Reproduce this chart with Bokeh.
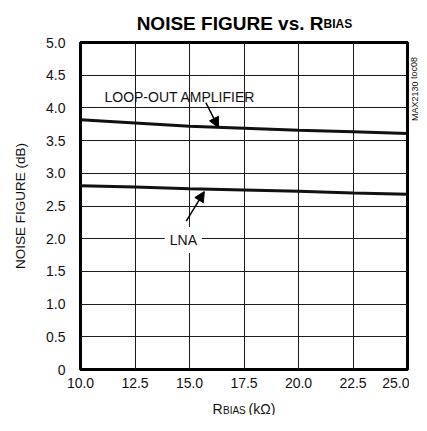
from bokeh.plotting import figure
from bokeh.models import Range1d, FixedTicker, Label, Arrow, NormalHead
from bokeh.layouts import column, row
from bokeh.embed import file_html
from bokeh.resources import INLINE

# ---- data ----
rbias = [10.0, 12.5, 15.0, 17.5, 20.0, 22.5, 25.0]
nf_loopout = [3.82, 3.77, 3.72, 3.69, 3.66, 3.635, 3.61]
nf_lna = [2.81, 2.79, 2.765, 2.745, 2.725, 2.70, 2.68]
x_ticks = [10.0, 12.5, 15.0, 17.5, 20.0, 22.5, 25.0]
x_tick_labels = ["10.0", "12.5", "15.0", "17.5", "20.0", "22.5", "25.0"]
y_ticks = [0, 0.5, 1.0, 1.5, 2.0, 2.5, 3.0, 3.5, 4.0, 4.5, 5.0]
y_tick_labels = ["0", "0.5", "1.0", "1.5", "2.0", "2.5", "3.0", "3.5", "4.0", "4.5", "5.0"]

FONT = "Liberation Sans"
TOTAL_W, TOTAL_H = 419, 415
TITLE_H = 34
MAIN_W, MAIN_H = 409, 359
NOTE_W = TOTAL_W - MAIN_W
XLAB_H = TOTAL_H - TITLE_H - MAIN_H


def text_panel(w, h):
    """blank figure whose frame is the whole canvas, coordinates in px from top-left"""
    f = figure(width=w, height=h, output_backend="svg", toolbar_location=None,
               x_range=Range1d(0, w), y_range=Range1d(h, 0),
               x_axis_type=None, y_axis_type=None,
               min_border_left=0, min_border_right=0, min_border_top=0, min_border_bottom=0)
    f.outline_line_color = None
    f.background_fill_color = "white"
    f.border_fill_color = "white"
    return f


# ---- title panel ----
tfig = text_panel(TOTAL_W, TITLE_H)
tfig.add_layout(Label(x=323, y=22.7, text="NOISE FIGURE vs. R", text_align="right",
                      text_baseline="alphabetic", text_font=FONT, text_font_size="19px",
                      text_font_style="bold", text_color="black"))
tfig.add_layout(Label(x=323, y=23.7, text="BIAS", text_align="left",
                      text_baseline="alphabetic", text_font=FONT, text_font_size="12px",
                      text_font_style="bold", text_color="black"))

# ---- main chart ----
p = figure(width=MAIN_W, height=MAIN_H, output_backend="svg", toolbar_location=None,
           x_range=Range1d(10, 25), y_range=Range1d(0, 5),
           min_border_left=80, min_border_right=2, min_border_top=8, min_border_bottom=24)
p.background_fill_color = "white"
p.border_fill_color = "white"
p.outline_line_color = "black"
p.outline_line_width = 3

for ax in (p.xaxis[0], p.yaxis[0]):
    ax.axis_line_color = None
    ax.major_tick_line_color = None
    ax.minor_tick_line_color = None
    ax.major_tick_out = 0
    ax.major_tick_in = 0
    ax.major_label_text_font = FONT
    ax.major_label_text_font_size = "14px"
    ax.major_label_text_color = "#111111"

p.xaxis.ticker = FixedTicker(ticks=x_ticks)
p.xaxis.major_label_overrides = {t: l for t, l in zip(x_ticks, x_tick_labels)}
p.xaxis.major_label_standoff = 8
p.yaxis.ticker = FixedTicker(ticks=y_ticks)
p.yaxis.major_label_overrides = {t: l for t, l in zip(y_ticks, y_tick_labels)}
p.yaxis.major_label_standoff = 15
p.yaxis.axis_label = "NOISE FIGURE (dB)"
p.yaxis.axis_label_text_font = FONT
p.yaxis.axis_label_text_font_size = "13.5px"
p.yaxis.axis_label_text_font_style = "normal"
p.yaxis.axis_label_text_color = "#111111"
p.yaxis.axis_label_standoff = 15

p.xgrid.ticker = FixedTicker(ticks=x_ticks)
p.ygrid.ticker = FixedTicker(ticks=y_ticks)
for g in (p.xgrid[0], p.ygrid[0]):
    g.grid_line_color = "#1a1a1a"
    g.grid_line_width = 1

p.line(rbias, nf_loopout, line_color="#111111", line_width=3)
p.line(rbias, nf_lna, line_color="#111111", line_width=3)

p.add_layout(Label(x=14.56, y=4.17, text="LOOP-OUT AMPLIFIER", text_align="center",
                   text_baseline="alphabetic", text_font=FONT, text_font_size="14px",
                   text_color="#111111"))
p.add_layout(Label(x=14.72, y=1.98, text="LNA", text_align="center",
                   text_baseline="alphabetic", text_font=FONT, text_font_size="14px",
                   text_color="#111111", background_fill_color="white",
                   padding=5))
p.add_layout(Arrow(x_start=15.75, y_start=4.08, x_end=16.33, y_end=3.70,
                   line_color="black", line_width=1.5,
                   end=NormalHead(size=10, fill_color="black", line_color="black")))
p.add_layout(Arrow(x_start=14.85, y_start=2.27, x_end=15.68, y_end=2.72,
                   line_color="black", line_width=1.5,
                   end=NormalHead(size=10, fill_color="black", line_color="black")))

# ---- side note panel ----
nfig = text_panel(NOTE_W, MAIN_H)
nfig.add_layout(Label(x=NOTE_W / 2, y=51, text="MAX2130 toc08", text_align="center",
                      text_baseline="middle", angle=1.5708, text_font=FONT,
                      text_font_size="9px", text_color="#111111"))

# ---- x label panel ----
xfig = text_panel(TOTAL_W, XLAB_H)
xfig.add_layout(Label(x=212, y=15, text="R", text_align="left",
                      text_baseline="alphabetic", text_font=FONT, text_font_size="14px",
                      text_color="#111111"))
xfig.add_layout(Label(x=222.5, y=16.5, text="BIAS", text_align="left",
                      text_baseline="alphabetic", text_font=FONT, text_font_size="10px",
                      text_color="#111111"))
xfig.add_layout(Label(x=248, y=15, text="(kΩ)", text_align="left",
                      text_baseline="alphabetic", text_font=FONT, text_font_size="14px",
                      text_color="#111111"))

layout = column(tfig, row(p, nfig, spacing=0), xfig, spacing=0)
open("out.html", "w").write(file_html(layout, INLINE))
